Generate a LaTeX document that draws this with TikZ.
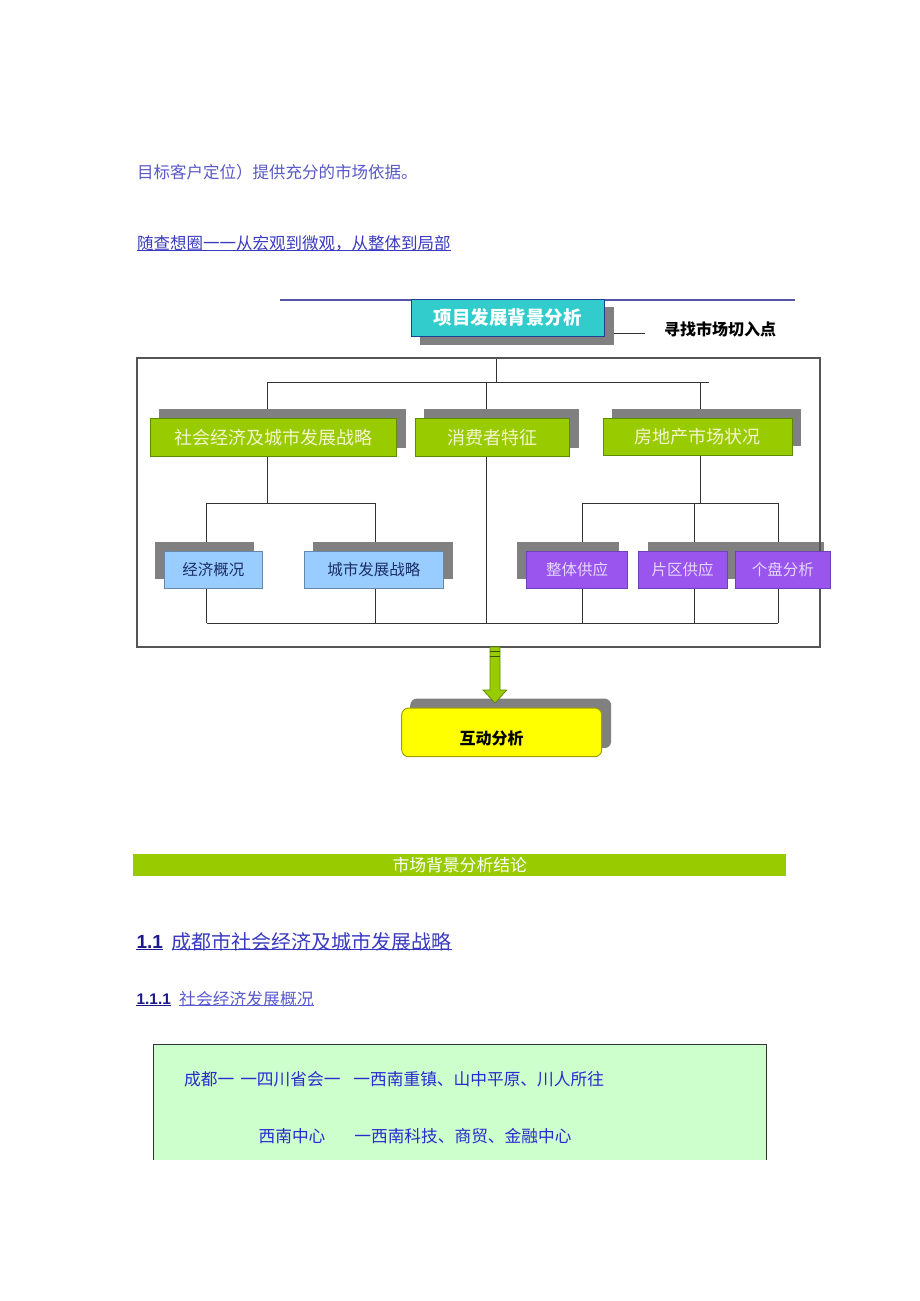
\documentclass[tikz,border=0pt]{standalone}
\usepackage{fontspec}
\setmainfont{Noto Sans CJK SC}
\newfontfamily\arialf{Liberation Sans}
\usetikzlibrary{calc}
\pgfdeclarelayer{background}
\pgfsetlayers{background,main}
\definecolor{cgreen}{HTML}{99CC00}
\definecolor{cgborder}{HTML}{5E8C00}
\definecolor{cgtext}{HTML}{F4F4CC}
\definecolor{cteal}{HTML}{33CCCC}
\definecolor{ctborder}{HTML}{1F3F8F}
\definecolor{cshadow}{HTML}{808080}
\definecolor{cblue}{HTML}{99CCFF}
\definecolor{cbborder}{HTML}{6688AA}
\definecolor{cbtext}{HTML}{1A2F66}
\definecolor{cpurple}{HTML}{9955EE}
\definecolor{cpborder}{HTML}{7040B8}
\definecolor{cptext}{HTML}{E4D8FF}
\definecolor{cyellow}{HTML}{FFFF00}
\definecolor{cyborder}{HTML}{A0A000}
\definecolor{cwire}{HTML}{333333}
\definecolor{cframe}{HTML}{555555}
\definecolor{ctopline}{HTML}{5555AA}
\definecolor{ctextA}{HTML}{5858C8}
\definecolor{ctextB}{HTML}{3A3AC0}
\definecolor{cnavy}{HTML}{1A1A8C}
\definecolor{cmint}{HTML}{CCFFCC}
\definecolor{cboxtext}{HTML}{2A2AD0}
\definecolor{csub}{HTML}{5A5AD0}
\newcommand{\fsz}[1]{\fontsize{#1}{#1}\selectfont}
\tikzset{
  gbox/.style={draw=cgborder, line width=0.8pt, fill=cgreen, text=cgtext, font=\fsz{18}, minimum height=38pt, inner sep=0pt},
  bbox/.style={draw=cbborder, line width=0.8pt, fill=cblue, text=cbtext, font=\fsz{15.5}, minimum height=37pt, inner sep=0pt},
  pbox/.style={draw=cpborder, line width=0.8pt, fill=cpurple, text=cptext, font=\fsz{15.5}, minimum height=37pt, inner sep=0pt},
  shadowfill/.style={fill=cshadow},
  wire/.style={draw=cwire, line width=1pt},
  plaintext/.style={anchor=west, inner sep=0pt},
  uline/.style={line width=0.8pt},
}
\begin{document}
\begin{tikzpicture}[x=1pt, y=-1pt]
\useasboundingbox (0,0) rectangle (920,1301);

% intro text
\node[plaintext, text=ctextA, font=\fsz{16.5}] (t1) at (137,172) {目标客户定位）提供充分的市场依据。};
\node[plaintext, text=ctextB, font=\fsz{16.5}] (t2) at (137,243) {随查想圈一一从宏观到微观，从整体到局部};
\draw[uline, ctextB] ([shift={(0,-1)}]t2.south west) -- ([shift={(0,-1)}]t2.south east);

% title
\node[draw=ctborder, line width=1pt, fill=cteal, text=white, font=\fsz{18.5}\bfseries,
      minimum width=193.6pt, minimum height=37pt, inner sep=0pt] (title) at (507.8,317.5) {项目发展背景分析};
\coordinate (cutend) at (645,333);
\node[plaintext, font=\fsz{16}\bfseries, text=black] (cut) at (664,329) {寻找市场切入点};

% frame
\node[draw=cframe, line width=1.2pt, minimum width=683pt, minimum height=289pt, inner sep=0pt] (frame) at (478.5,502.5) {};

% level 1
\node[gbox, minimum width=246.5pt] (g1) at (273.25,437.35) {社会经济及城市发展战略};
\node[gbox, minimum width=154pt] (g2) at (492.7,437.35) {消费者特征};
\node[gbox, minimum width=189pt, minimum height=37pt] (g3) at (697.5,436.5) {房地产市场状况};

% level 2
\node[bbox, minimum width=98.6pt] (b1) at (213.3,569.5) {经济概况};
\node[bbox, minimum width=139.8pt] (b2) at (373.9,569.5) {城市发展战略};
\node[pbox, minimum width=101.4pt] (p1) at (577.1,569.5) {整体供应};
\node[pbox, minimum width=89.3pt] (p2) at (682.65,569.5) {片区供应};
\node[pbox, minimum width=94.2pt] (p3) at (782.9,569.5) {个盘分析};

% result box
\node[draw=cyborder, line width=1pt, fill=cyellow, rounded corners=7pt, font=\fsz{16}\bfseries,
      minimum width=200pt, minimum height=48.7pt, inner sep=0pt, text height=26pt, text depth=2pt] (res) at (501.7,732.35) {\hspace*{-20pt}互动分析};

% arrow
\draw[fill=cgreen, draw=cgborder, line width=0.8pt]
  (490,647) -- (500,647) -- (500,690) -- (506.7,690) -- (495,703) -- (483,690) -- (490,690) -- cycle;
\draw[cgborder!60!black, line width=0.8pt] (490,651.7) -- (500,651.7) (490,656) -- (500,656);

% conclusion bar
\node[fill=cgreen, text=white, font=\fsz{16.8}, minimum width=652.6pt, minimum height=22pt, inner sep=0pt] (bar) at (459.7,865) {市场背景分析结论};

% headings
\node[plaintext, text=cnavy, font=\arialf\bfseries\fsz{19}] (h1n) at (136.4,941.7) {1.1};
\node[plaintext, text=ctextB, font=\fsz{20}] (h1t) at (171.5,941.7) {成都市社会经济及城市发展战略};
\draw[uline, cnavy] ([shift={(0,-2)}]h1n.west |- h1t.south) -- ([shift={(0,-2)}]h1n.east |- h1t.south);
\draw[uline, ctextB] ([shift={(0,-2)}]h1t.south west) -- ([shift={(0,-2)}]h1t.south east);

\node[plaintext, text=cnavy, font=\arialf\bfseries\fsz{15.4}] (h2n) at (136.4,999) {1.1.1};
\node[plaintext, text=csub, font=\fsz{16.8}] (h2t) at (179,999) {社会经济发展概况};
\draw[uline, cnavy] ([shift={(0,-1.5)}]h2n.west |- h2t.south) -- ([shift={(0,-1.5)}]h2n.east |- h2t.south);
\draw[uline, csub] ([shift={(0,-1.5)}]h2t.south west) -- ([shift={(0,-1.5)}]h2t.south east);

% info box
\coordinate (ibTL) at (153.5,1044.3);
\coordinate (ibBR) at (766.5,1160);
\fill[cmint] (ibTL) rectangle (ibBR);
\draw[cwire, line width=1pt] (ibTL |- ibBR) -- (ibTL) -- (ibBR |- ibTL) -- (ibBR);
\node[plaintext, text=cboxtext, font=\fsz{16.7}] (i1) at (184,1079) {成都一\hspace{6pt}一四川省会一\hspace{13pt}一西南重镇、山中平原、川人所往};
\node[plaintext, text=cboxtext, font=\fsz{16.7}] (i2) at (258.4,1136) {西南中心\hspace{29pt}一西南科技、商贸、金融中心};

% connectors and shadows behind
\begin{pgfonlayer}{background}
  \coordinate (topL) at (280,300);
  \coordinate (topR) at (795,300);
  \draw[ctopline, line width=1.5pt] (topL) -- (topR);
  \draw[cwire, line width=1pt] (title.east |- cutend) -- (cutend);

  \coordinate (barL) at (267,382);
  \coordinate (barR) at (708.6,382);
  \coordinate (stub) at (496,382);
  \coordinate (mid) at (486,382);
  \coordinate (rgt) at (700,382);
  \draw[wire] (barL) -- (barR);
  \draw[wire] (stub) -- (stub |- frame.north);
  \draw[wire] (barL) -- (barL |- g1.north);
  \draw[wire] (mid) -- (mid |- g2.north);
  \draw[wire] (rgt) -- (rgt |- g3.north);

  \coordinate (l2L) at (206.8,503);
  \coordinate (l2R) at (375,503);
  \coordinate (l2m) at (267,503);
  \draw[wire] (l2L) -- (l2R);
  \draw[wire] (g1.south -| l2m) -- (l2m);
  \draw[wire] (l2L) -- (l2L |- b1.north);
  \draw[wire] (l2R) -- (l2R |- b2.north);

  \coordinate (r2L) at (582,503);
  \coordinate (r2R) at (778,503);
  \coordinate (r2m) at (700,503);
  \coordinate (r2p) at (694,503);
  \draw[wire] (r2L) -- (r2R);
  \draw[wire] (g3.south -| r2m) -- (r2m);
  \draw[wire] (r2L) -- (r2L |- p1.north);
  \draw[wire] (r2p) -- (r2p |- p2.north);
  \draw[wire] (r2R) -- (r2R |- p3.north);

  \coordinate (botL) at (206.8,623.3);
  \coordinate (botR) at (778,623.3);
  \draw[wire] (botL) -- (botR);
  \draw[wire] (b1.south -| botL) -- (botL);
  \draw[wire] (b2.south -| l2R) -- (l2R |- botL);
  \draw[wire] (g2.south -| mid) -- (mid |- botL);
  \draw[wire] (p1.south -| r2L) -- (r2L |- botL);
  \draw[wire] (p2.south -| r2p) -- (r2p |- botL);
  \draw[wire] (p3.south -| r2R) -- (r2R |- botL);

  % shadows
  \fill[shadowfill] ([shift={(9,8)}]title.south west) rectangle ([shift={(9,8)}]title.north east);
  \fill[shadowfill] ([shift={(9,-9)}]g1.south west) rectangle ([shift={(9,-9)}]g1.north east);
  \fill[shadowfill] ([shift={(9,-9)}]g2.south west) rectangle ([shift={(9,-9)}]g2.north east);
  \fill[shadowfill] ([shift={(9,-9)}]g3.south west) rectangle ([shift={(9,-9)}]g3.north east);
  \fill[shadowfill] ([shift={(-9,-9)}]b1.south west) rectangle ([shift={(-9,-9)}]b1.north east);
  \fill[shadowfill] ([shift={(9,-9)}]b2.south west) rectangle ([shift={(9,-9)}]b2.north east);
  \fill[shadowfill] ([shift={(-9,-9)}]p1.south west) rectangle ([shift={(-9,-9)}]p1.north east);
  \fill[shadowfill] ([shift={(10,-9)}]p2.south west) rectangle ([shift={(10,-9)}]p2.north east);
  \fill[shadowfill] ([shift={(-8,-9)}]p3.south west) rectangle ([shift={(-6,-9)}]p3.north east);
  \fill[shadowfill, rounded corners=7pt] ([shift={(9,-9)}]res.south west) rectangle ([shift={(9,-9)}]res.north east);
\end{pgfonlayer}
\end{tikzpicture}
\end{document}
